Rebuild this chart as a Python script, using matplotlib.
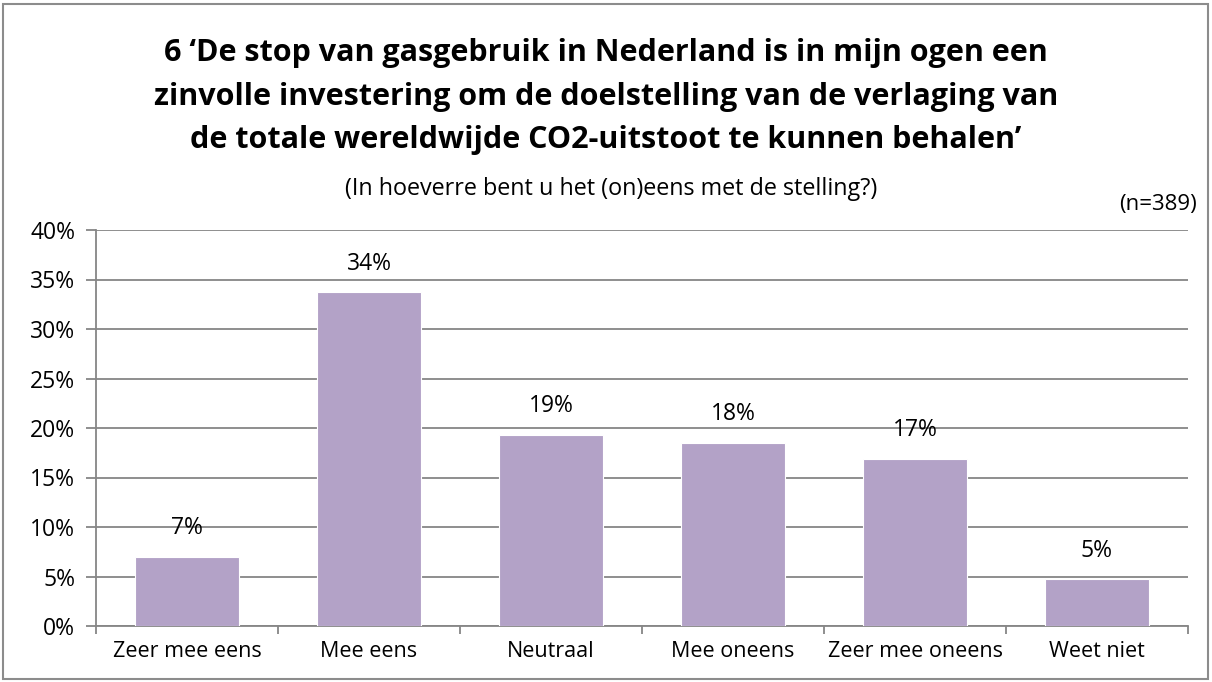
import numpy as np
import matplotlib
matplotlib.use('Agg')
import matplotlib.pyplot as plt
from matplotlib.patches import Rectangle

plt.rcParams['font.family'] = ['Open Sans', 'DejaVu Sans']

categories = ['Zeer mee eens', 'Mee eens', 'Neutraal', 'Mee oneens', 'Zeer mee oneens', 'Weet niet']
values = [0.070, 0.337, 0.193, 0.185, 0.169, 0.047]
labels = ['7%', '34%', '19%', '18%', '17%', '5%']
yticks = [0, 0.05, 0.10, 0.15, 0.20, 0.25, 0.30, 0.35, 0.40]

title_lines = ["6 \u2018De stop van gasgebruik in Nederland is in mijn ogen een",
               "zinvolle investering om de doelstelling van de verlaging van",
               "de totale wereldwijde CO2-uitstoot te kunnen behalen\u2019"]
subtitle = "(In hoeverre bent u het (on)eens met de stelling?)"
n_text = "(n=389)"

bar_color = '#B3A2C7'
grid_color = '#868686'

fig = plt.figure(figsize=(12.12, 6.82), dpi=100)
ax = fig.add_axes([96/1212, 1-626/682, (1188-96)/1212, (626-230)/682])

x = np.arange(len(categories))
bars = ax.bar(x, values, width=0.57, color=bar_color, edgecolor='white', linewidth=0.8, zorder=3)

for b, lab in zip(bars, labels):
    ax.annotate(lab, (b.get_x() + b.get_width()/2, b.get_height()),
                xytext=(0, 12), textcoords='offset points',
                ha='center', va='bottom', fontsize=16.5, color='black')

ax.set_xlim(-0.5, len(categories) - 0.5)
ax.set_ylim(0, 0.40)
ax.set_yticks(yticks)
ax.set_yticklabels([f'{int(round(t*100))}%' for t in yticks], fontsize=16.5)
ax.yaxis.grid(True, color=grid_color, linewidth=1.3, zorder=0)
ax.set_axisbelow(True)

# category labels centered, tick marks on the boundaries
ax.set_xticks(x)
ax.set_xticklabels(categories, fontsize=15.5)
ax.tick_params(axis='x', which='major', length=0, pad=11)
ax.set_xticks(np.arange(-0.5, len(categories)), minor=True)
ax.tick_params(axis='x', which='minor', length=6, width=1.3, color=grid_color, direction='out')
ax.tick_params(axis='y', length=7, width=1.3, color=grid_color, pad=8)

for s in ['top', 'right']:
    ax.spines[s].set_visible(False)
for s in ['left', 'bottom']:
    ax.spines[s].set_color(grid_color)
    ax.spines[s].set_linewidth(1.3)

# titles
ys = [53, 97, 140]
for line, yy in zip(title_lines, ys):
    fig.text(0.5, 1 - yy/682, line, ha='center', va='center',
             fontsize=22, fontweight='bold', color='black')
fig.text(611/1212, 1 - 189/682, subtitle, ha='center', va='center', fontsize=16.8)
fig.text(1197/1212, 1 - 205/682, n_text, ha='right', va='center', fontsize=16)

# outer border
fig.patches.append(Rectangle((3/1212, 3/682), 1 - 7/1212, 1 - 7/682,
                             transform=fig.transFigure, fill=False,
                             edgecolor='#8c8c8c', linewidth=1.5))

fig.savefig('out.png', dpi=100)
